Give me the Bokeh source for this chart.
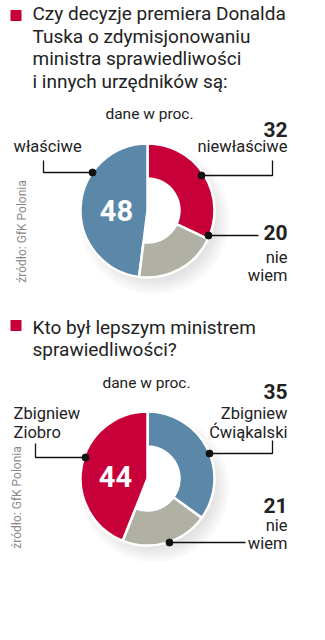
import math
from bokeh.plotting import figure
from bokeh.models import Range1d
from bokeh.core.properties import value
from bokeh.embed import file_html
from bokeh.resources import INLINE

# ---------------- data ----------------
q1_title = ["Czy decyzje premiera Donalda", "Tuska o zdymisjonowaniu",
            "ministra sprawiedliwości", "i innych urzędników są:"]
q1_labels = ["niewłaściwe", "właściwe", "nie wiem"]
q1_values = [32, 48, 20]

q2_title = ["Kto był lepszym ministrem", "sprawiedliwości?"]
q2_labels = ["Zbigniew Ćwiąkalski", "Zbigniew Ziobro", "nie wiem"]
q2_values = [35, 44, 21]

unit_note = "dane w proc."
source = "źródło: GfK Polonia"

RED = "#C8003A"
BLUE = "#5B87A9"
GRAY = "#B0B0A4"
TXT = "#222222"
FONT = "Roboto"

W, H = 325, 640
p = figure(width=W, height=H, x_range=Range1d(0, W), y_range=Range1d(0, H),
           x_axis_type=None, y_axis_type=None, toolbar_location=None,
           output_backend="svg", min_border=0)
p.grid.visible = False
p.outline_line_color = None
p.background_fill_color = "white"
p.border_fill_color = "white"


def Y(t):
    return H - t


def txt(x, y, s, size, align="left", bold=False, color=TXT, angle=0.0):
    p.text(x=[x], y=[Y(y)], text=[s], text_font=value(FONT),
           text_font_size=f"{size}px", text_align=align,
           text_baseline="middle", text_color=color,
           text_font_style="bold" if bold else "normal", angle=angle)


def leader(xs, ys, dot):
    p.line(x=xs, y=[Y(v) for v in ys], line_color="#111111", line_width=1.3)
    p.scatter(x=[dot[0]], y=[Y(dot[1])], size=7, color="#111111")


def donut(cx, cy, values, colors, full_index):
    # soft drop shadow
    for k in range(6):
        p.circle(x=[cx + 7], y=[Y(cy + 9)], radius=60 + 3 * k,
                 fill_color="#888888", fill_alpha=0.045, line_color=None)
    p.circle(x=[cx], y=[Y(cy)], radius=66, fill_color="white", line_color=None)
    total = float(sum(values))
    start = math.pi / 2 - 2 * math.pi * values[0] / total
    for i, (v, c) in enumerate(zip(values, colors)):
        end = start + 2 * math.pi * v / total
        inner = 0 if i == full_index else 32
        p.annular_wedge(x=[cx], y=[Y(cy)], inner_radius=inner, outer_radius=67,
                        start_angle=[start], end_angle=[end], fill_color=c,
                        line_color="white", line_width=2.5)
        start = end


# ---------------- chart 1 ----------------
p.rect(x=[15.5], y=[Y(15)], width=11, height=11, fill_color=RED, line_color=None)
for i, line in enumerate(q1_title):
    txt(32, 13 + i * 22.5, line, 19)
txt(149, 113, unit_note, 15.5, align="center")

donut(147, 210, q1_values, [RED, BLUE, GRAY], 1)
txt(116, 210, str(q1_values[1]), 29, align="center", bold=True, color="white")

txt(13, 146, q1_labels[1], 16.5)
leader([43, 43, 92], [160, 172, 172], (92, 172))

txt(287, 129, str(q1_values[0]), 21, align="right", bold=True)
txt(287, 146, q1_labels[0], 16.5, align="right")
leader([272, 272, 201], [160, 175, 175], (201, 175))

txt(287, 232, str(q1_values[2]), 21, align="right", bold=True)
txt(287, 257, q1_labels[2].split()[0], 16.5, align="right")
txt(287, 275, q1_labels[2].split()[1], 16.5, align="right")
leader([208, 258], [235, 235], (208, 235))

txt(21, 231, source, 12, align="center", color="#8a8a8a", angle=math.pi / 2)

# ---------------- chart 2 ----------------
p.rect(x=[15.5], y=[Y(325)], width=11, height=11, fill_color=RED, line_color=None)
for i, line in enumerate(q2_title):
    txt(32, 327 + i * 22, line, 19)
txt(146, 382, unit_note, 15.5, align="center")

donut(147, 478, q2_values, [BLUE, RED, GRAY], 1)
txt(115, 476, str(q2_values[1]), 29, align="center", bold=True, color="white")

txt(287, 391, str(q2_values[0]), 21, align="right", bold=True)
txt(287, 413, q2_labels[0].split()[0], 16.5, align="right")
txt(287, 432, q2_labels[0].split()[1], 16.5, align="right")
leader([272, 272, 209], [440, 453, 453], (209, 453))

txt(13, 413, q2_labels[1].split()[0], 16.5)
txt(13, 432, q2_labels[1].split()[1], 16.5)
leader([35, 35, 85], [443, 457, 457], (85, 457))

txt(287, 505, str(q2_values[2]), 21, align="right", bold=True)
txt(287, 525, q2_labels[2].split()[0], 16.5, align="right")
txt(287, 543, q2_labels[2].split()[1], 16.5, align="right")
leader([169, 245], [542, 542], (169, 542))

txt(16, 497, source, 12, align="center", color="#8a8a8a", angle=math.pi / 2)

open("out.html", "w").write(file_html(p, INLINE))
